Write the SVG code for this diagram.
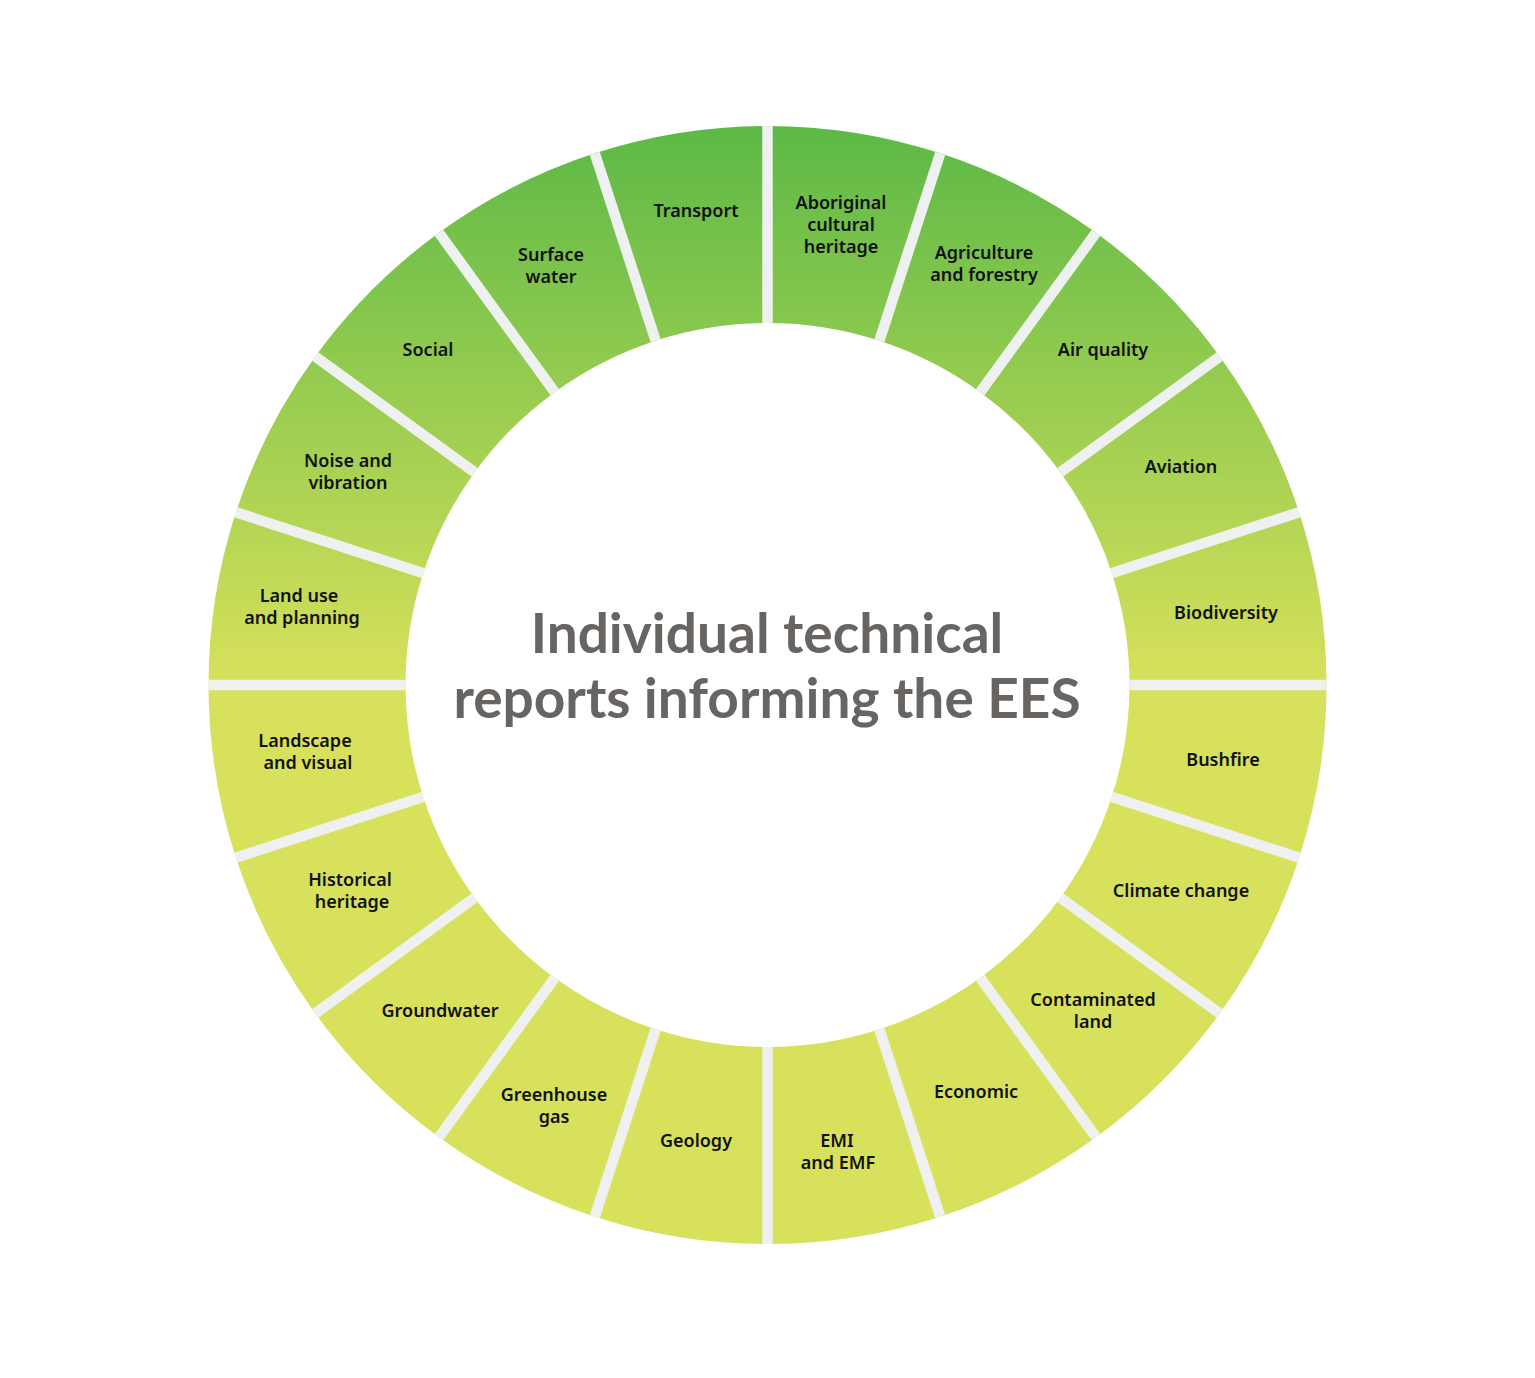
<svg xmlns="http://www.w3.org/2000/svg" width="1535" height="1378" viewBox="0 0 1535 1378">
<defs>
<linearGradient id="ring" gradientUnits="userSpaceOnUse" x1="0" y1="125" x2="0" y2="685">
<stop offset="0" stop-color="#5cb946"/>
<stop offset="1" stop-color="#d8e15b"/>
</linearGradient>
<clipPath id="annulus">
<path clip-rule="evenodd" d="M767.5 126A559 559 0 1 1 767.5 1244A559 559 0 1 1 767.5 126ZM767.5 323A362 362 0 1 0 767.5 1047A362 362 0 1 0 767.5 323Z"/>
</clipPath>
<style>
.seg{fill:url(#ring);}
.lbl{font-family:"Noto Sans","Liberation Sans",sans-serif;font-weight:600;font-size:18px;fill:#111;text-anchor:middle;}
.title{font-family:Lato,"Liberation Sans",sans-serif;font-weight:700;font-size:55px;fill:#686462;text-anchor:middle;}
.gap{stroke:#eff1f0;stroke-width:10.5;fill:none;}
</style>
</defs>
<rect width="1535" height="1378" fill="#ffffff"/>
<g id="node-aboriginal"><path class="seg" d="M767.5 126A559 559 0 0 1 940.24 153.36L879.36 340.72A362 362 0 0 0 767.5 323Z"/><text class="lbl" x="841" y="209">Aboriginal</text><text class="lbl" x="841" y="231">cultural</text><text class="lbl" x="841" y="253">heritage</text></g>
<g id="node-agriculture"><path class="seg" d="M940.24 153.36A559 559 0 0 1 1096.07 232.76L980.28 392.14A362 362 0 0 0 879.36 340.72Z"/><text class="lbl" x="984" y="259">Agriculture</text><text class="lbl" x="984" y="281">and forestry</text></g>
<g id="node-air-quality"><path class="seg" d="M1096.07 232.76A559 559 0 0 1 1219.74 356.43L1060.36 472.22A362 362 0 0 0 980.28 392.14Z"/><text class="lbl" x="1103" y="356">Air quality</text></g>
<g id="node-aviation"><path class="seg" d="M1219.74 356.43A559 559 0 0 1 1299.14 512.26L1111.78 573.14A362 362 0 0 0 1060.36 472.22Z"/><text class="lbl" x="1181" y="473">Aviation</text></g>
<g id="node-biodiversity"><path class="seg" d="M1299.14 512.26A559 559 0 0 1 1326.5 685L1129.5 685A362 362 0 0 0 1111.78 573.14Z"/><text class="lbl" x="1226" y="619">Biodiversity</text></g>
<g id="node-bushfire"><path class="seg" d="M1326.5 685A559 559 0 0 1 1299.14 857.74L1111.78 796.86A362 362 0 0 0 1129.5 685Z"/><text class="lbl" x="1223" y="766">Bushfire</text></g>
<g id="node-climate"><path class="seg" d="M1299.14 857.74A559 559 0 0 1 1219.74 1013.57L1060.36 897.78A362 362 0 0 0 1111.78 796.86Z"/><text class="lbl" x="1181" y="897">Climate change</text></g>
<g id="node-contaminated"><path class="seg" d="M1219.74 1013.57A559 559 0 0 1 1096.07 1137.24L980.28 977.86A362 362 0 0 0 1060.36 897.78Z"/><text class="lbl" x="1093" y="1006">Contaminated</text><text class="lbl" x="1093" y="1028">land</text></g>
<g id="node-economic"><path class="seg" d="M1096.07 1137.24A559 559 0 0 1 940.24 1216.64L879.36 1029.28A362 362 0 0 0 980.28 977.86Z"/><text class="lbl" x="976" y="1098">Economic</text></g>
<g id="node-emi"><path class="seg" d="M940.24 1216.64A559 559 0 0 1 767.5 1244L767.5 1047A362 362 0 0 0 879.36 1029.28Z"/><text class="lbl" x="837" y="1147">EMI</text><text class="lbl" x="838" y="1169">and EMF</text></g>
<g id="node-geology"><path class="seg" d="M767.5 1244A559 559 0 0 1 594.76 1216.64L655.64 1029.28A362 362 0 0 0 767.5 1047Z"/><text class="lbl" x="696" y="1147">Geology</text></g>
<g id="node-greenhouse"><path class="seg" d="M594.76 1216.64A559 559 0 0 1 438.93 1137.24L554.72 977.86A362 362 0 0 0 655.64 1029.28Z"/><text class="lbl" x="554" y="1101">Greenhouse</text><text class="lbl" x="554" y="1123">gas</text></g>
<g id="node-groundwater"><path class="seg" d="M438.93 1137.24A559 559 0 0 1 315.26 1013.57L474.64 897.78A362 362 0 0 0 554.72 977.86Z"/><text class="lbl" x="440" y="1017">Groundwater</text></g>
<g id="node-historical"><path class="seg" d="M315.26 1013.57A559 559 0 0 1 235.86 857.74L423.22 796.86A362 362 0 0 0 474.64 897.78Z"/><text class="lbl" x="350" y="886">Historical</text><text class="lbl" x="352" y="908">heritage</text></g>
<g id="node-landscape"><path class="seg" d="M235.86 857.74A559 559 0 0 1 208.5 685L405.5 685A362 362 0 0 0 423.22 796.86Z"/><text class="lbl" x="305" y="747">Landscape</text><text class="lbl" x="308" y="769">and visual</text></g>
<g id="node-land-use"><path class="seg" d="M208.5 685A559 559 0 0 1 235.86 512.26L423.22 573.14A362 362 0 0 0 405.5 685Z"/><text class="lbl" x="299" y="602">Land use</text><text class="lbl" x="302" y="624">and planning</text></g>
<g id="node-noise"><path class="seg" d="M235.86 512.26A559 559 0 0 1 315.26 356.43L474.64 472.22A362 362 0 0 0 423.22 573.14Z"/><text class="lbl" x="348" y="467">Noise and</text><text class="lbl" x="348" y="489">vibration</text></g>
<g id="node-social"><path class="seg" d="M315.26 356.43A559 559 0 0 1 438.93 232.76L554.72 392.14A362 362 0 0 0 474.64 472.22Z"/><text class="lbl" x="428" y="356">Social</text></g>
<g id="node-surface-water"><path class="seg" d="M438.93 232.76A559 559 0 0 1 594.76 153.36L655.64 340.72A362 362 0 0 0 554.72 392.14Z"/><text class="lbl" x="551" y="261">Surface</text><text class="lbl" x="551" y="283">water</text></g>
<g id="node-transport"><path class="seg" d="M594.76 153.36A559 559 0 0 1 767.5 126L767.5 323A362 362 0 0 0 655.64 340.72Z"/><text class="lbl" x="696" y="217">Transport</text></g>
<g id="connectors" clip-path="url(#annulus)">
<line class="gap" x1="767.5" y1="120" x2="767.5" y2="1250"/>
<line class="gap" x1="942.1" y1="147.65" x2="592.9" y2="1222.35"/>
<line class="gap" x1="1099.6" y1="227.9" x2="435.4" y2="1142.1"/>
<line class="gap" x1="1224.6" y1="352.9" x2="310.4" y2="1017.1"/>
<line class="gap" x1="1304.85" y1="510.4" x2="230.15" y2="859.6"/>
<line class="gap" x1="1332.5" y1="685" x2="202.5" y2="685"/>
<line class="gap" x1="1304.85" y1="859.6" x2="230.15" y2="510.4"/>
<line class="gap" x1="1224.6" y1="1017.1" x2="310.4" y2="352.9"/>
<line class="gap" x1="1099.6" y1="1142.1" x2="435.4" y2="227.9"/>
<line class="gap" x1="942.1" y1="1222.35" x2="592.9" y2="147.65"/>
</g>
<g id="title">
<text class="title" x="767" y="653">Individual technical</text>
<text class="title" x="767" y="718">reports informing the EES</text>
</g>
</svg>
